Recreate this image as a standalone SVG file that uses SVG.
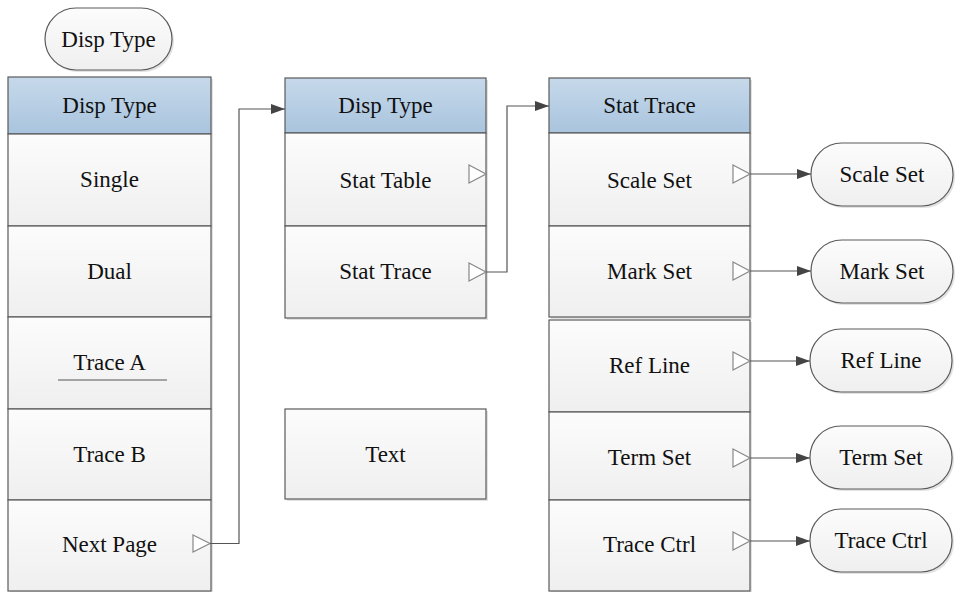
<svg xmlns="http://www.w3.org/2000/svg" width="955" height="592" viewBox="0 0 955 592">
<style>
text{font-family:"Liberation Serif","Times New Roman",serif;font-size:23px;fill:#111;text-anchor:middle}
.box{fill:url(#gBody);stroke:#5a5a5a;stroke-width:1.2}
.hdr{fill:url(#gHdr);stroke:#5a5a5a;stroke-width:1.2}
.shd{fill:#e2e2e2}
.pill{fill:url(#gBody);stroke:#5a5a5a;stroke-width:1.2}
.tri{fill:#fff;stroke:#888;stroke-width:1.2}
.con{fill:none;stroke:#555;stroke-width:1.2}
</style>
<defs>
<linearGradient id="gBody" x1="0" y1="0" x2="0" y2="1"><stop offset="0" stop-color="#fcfcfc"/><stop offset="1" stop-color="#efefef"/></linearGradient>
<linearGradient id="gHdr" x1="0" y1="0" x2="0" y2="1"><stop offset="0" stop-color="#c6d9ea"/><stop offset="1" stop-color="#a9c4de"/></linearGradient>
<marker id="arr" viewBox="0 0 14 10" refX="14" refY="5" markerWidth="14" markerHeight="10" markerUnits="userSpaceOnUse" orient="auto"><path d="M0,0 L14,5 L0,10 Z" fill="#444"/></marker>
</defs>

<!-- top pill -->
<g id="pill-disp">
<rect x="47" y="10" width="127" height="62" rx="31" class="shd"/>
<rect x="45" y="8" width="127" height="62" rx="31" class="pill"/>
<text x="108.5" y="47">Disp Type</text>
</g>

<!-- left column -->
<g id="col1">
<rect x="10" y="79" width="203" height="520" class="shd"/>
<rect x="8" y="77" width="203" height="57" class="hdr"/>
<text x="109.5" y="113">Disp Type</text>
<g id="c1-single"><rect x="8" y="134" width="203" height="92" class="box"/><text x="109.5" y="187">Single</text></g>
<g id="c1-dual"><rect x="8" y="226" width="203" height="91" class="box"/><text x="109.5" y="279">Dual</text></g>
<g id="c1-tracea"><rect x="8" y="317" width="203" height="92" class="box"/><text x="109.5" y="370">Trace A</text><line x1="58" y1="380" x2="167" y2="380" stroke="#555" stroke-width="1"/></g>
<g id="c1-traceb"><rect x="8" y="409" width="203" height="91" class="box"/><text x="109.5" y="462">Trace B</text></g>
<g id="c1-next"><rect x="8" y="500" width="203" height="91" class="box"/><text x="109.5" y="552">Next Page</text><polygon points="193,535 210,543.5 193,552" class="tri"/></g>
</g>

<!-- middle column -->
<g id="col2">
<rect x="287" y="80" width="201" height="240" class="shd"/>
<rect x="285" y="78" width="201" height="55" class="hdr"/>
<text x="385.5" y="113">Disp Type</text>
<g id="c2-table"><rect x="285" y="133" width="201" height="93" class="box"/><text x="385.5" y="188">Stat Table</text><polygon points="469,165 486,174 469,183" class="tri"/></g>
<g id="c2-trace"><rect x="285" y="226" width="201" height="92" class="box"/><text x="385.5" y="279">Stat Trace</text><polygon points="469,263 486,272 469,281" class="tri"/></g>
</g>
<g id="text-box">
<rect x="287" y="411" width="201" height="90" class="shd"/>
<rect x="285" y="409" width="201" height="90" class="box"/>
<text x="385.5" y="462">Text</text>
</g>

<!-- right column -->
<g id="col3">
<rect x="551" y="80" width="201" height="239" class="shd"/>
<rect x="549" y="78" width="201" height="55" class="hdr"/>
<text x="649.5" y="113">Stat Trace</text>
<g id="c3-scale"><rect x="549" y="133" width="201" height="93" class="box"/><text x="649.5" y="188">Scale Set</text><polygon points="733,165 750,174 733,183" class="tri"/></g>
<g id="c3-mark"><rect x="549" y="226" width="201" height="91" class="box"/><text x="649.5" y="279">Mark Set</text><polygon points="733,262 750,271 733,280" class="tri"/></g>
</g>
<g id="col3b">
<rect x="551" y="322" width="201" height="280" class="shd"/>
<g id="c3-ref"><rect x="549" y="320" width="201" height="92" class="box"/><text x="649.5" y="373">Ref Line</text><polygon points="733,352 750,361 733,370" class="tri"/></g>
<g id="c3-term"><rect x="549" y="412" width="201" height="88" class="box"/><text x="649.5" y="465">Term Set</text><polygon points="733,449 750,458 733,467" class="tri"/></g>
<g id="c3-ctrl"><rect x="549" y="500" width="201" height="91" class="box"/><text x="649.5" y="552">Trace Ctrl</text><polygon points="733,532 750,541 733,550" class="tri"/></g>
</g>

<!-- right pills -->
<g id="p-scale"><rect x="813" y="145" width="142" height="63" rx="31" class="shd"/><rect x="811" y="143" width="142" height="63" rx="31" class="pill"/><text x="882" y="182">Scale Set</text></g>
<g id="p-mark"><rect x="813" y="242" width="142" height="63" rx="31" class="shd"/><rect x="811" y="240" width="142" height="63" rx="31" class="pill"/><text x="882" y="279">Mark Set</text></g>
<g id="p-ref"><rect x="812" y="331" width="142" height="63" rx="31" class="shd"/><rect x="810" y="329" width="142" height="63" rx="31" class="pill"/><text x="881" y="368">Ref Line</text></g>
<g id="p-term"><rect x="812" y="428" width="142" height="63" rx="31" class="shd"/><rect x="810" y="426" width="142" height="63" rx="31" class="pill"/><text x="881" y="465">Term Set</text></g>
<g id="p-ctrl"><rect x="812" y="511" width="142" height="63" rx="31" class="shd"/><rect x="810" y="509" width="142" height="63" rx="31" class="pill"/><text x="881" y="548">Trace Ctrl</text></g>

<!-- connectors -->
<g id="connectors">
<path d="M210,543.5 H239 V109 H285" class="con" marker-end="url(#arr)"/>
<path d="M486,272 H507 V106 H549" class="con" marker-end="url(#arr)"/>
<path d="M750,174 H811" class="con" marker-end="url(#arr)"/>
<path d="M750,271 H811" class="con" marker-end="url(#arr)"/>
<path d="M750,361 H810" class="con" marker-end="url(#arr)"/>
<path d="M750,458 H810" class="con" marker-end="url(#arr)"/>
<path d="M750,541 H810" class="con" marker-end="url(#arr)"/>
</g>
</svg>
